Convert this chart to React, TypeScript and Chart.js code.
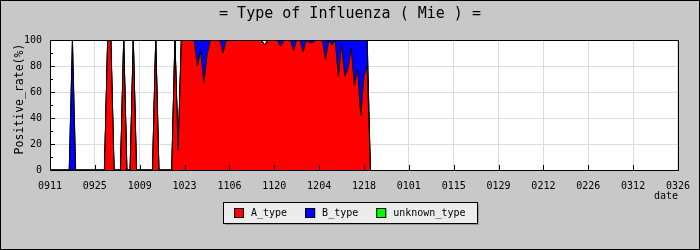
import React, { useEffect, useRef } from "react";
import { Chart, registerables } from "chart.js";

Chart.register(...registerables);

const TITLE = "= Type of Influenza ( Mie ) =";
const Y_TITLE = "Positive_rate(%)";
const X_TITLE = "date";
const TICK_LABELS = ["0911", "0925", "1009", "1023", "1106", "1120", "1204", "1218", "0101", "0115", "0129", "0212", "0226", "0312", "0326"];
const SERIES_NAMES = ["A_type", "B_type", "unknown_type"];
const SERIES_COLORS = ["#ff0000", "#0000ff", "#00ff00"];

// daily values, day 0 = 0911
const A_TYPE = [
  0, 0, 0, 0, 0, 0, 0, 0, 0, 0,
  0, 0, 0, 0, 0, 0, 0, 0, 100, 100,
  0, 0, 0, 100, 0, 0, 100, 0, 0, 0,
  0, 0, 0, 100, 0, 0, 0, 0, 0, 100,
  15, 100, 100, 100, 100, 100, 80, 92, 67, 88,
  100, 100, 100, 100, 90, 100, 100, 100, 100, 100,
  100, 100, 100, 100, 100, 100, 100, 96, 100, 100,
  100, 100, 95, 100, 100, 100, 92, 100, 100, 91,
  100, 98, 98, 100, 100, 100, 85, 100, 96, 100,
  72, 97, 72, 78, 94, 65, 78, 42, 72, 80,
  0,
];
const B_TYPE = [
  0, 0, 0, 0, 0, 0, 0, 100, 0, 0,
  0, 0, 0, 0, 0, 0, 0, 0, 0, 0,
  0, 0, 0, 0, 0, 0, 0, 0, 0, 0,
  0, 0, 0, 0, 0, 0, 0, 0, 0, 0,
  0, 0, 0, 0, 0, 0, 20, 8, 33, 12,
  0, 0, 0, 0, 10, 0, 0, 0, 0, 0,
  0, 0, 0, 0, 0, 0, 0, 0, 0, 0,
  0, 0, 5, 0, 0, 0, 8, 0, 0, 9,
  0, 2, 2, 0, 0, 0, 15, 0, 4, 0,
  28, 3, 28, 22, 6, 35, 22, 58, 28, 20,
  0,
];
const UNKNOWN_TYPE = [
  0, 0, 0, 0, 0, 0, 0, 0, 0, 0,
  0, 0, 0, 0, 0, 0, 0, 0, 0, 0,
  0, 0, 0, 0, 0, 0, 0, 0, 0, 0,
  0, 0, 0, 0, 0, 0, 0, 0, 0, 0,
  0, 0, 0, 0, 0, 0, 0, 0, 0, 0,
  0, 0, 0, 0, 0, 0, 0, 0, 0, 0,
  0, 0, 0, 0, 0, 0, 0, 0, 0, 0,
  0, 0, 0, 0, 0, 0, 0, 0, 0, 0,
  0, 0, 0, 0, 0, 0, 0, 0, 0, 0,
  0, 0, 0, 0, 0, 0, 0, 0, 0, 0,
  0,
];

const MONO = "'DejaVu Sans Mono', 'Liberation Mono', monospace";
const BG = "#c8c8c8";
const GRID = "#dcdcdc";

const framePlugin = {
  id: "frame",
  beforeDraw(chart: any) {
    const { ctx, chartArea: a, width, height } = chart;
    ctx.save();
    ctx.fillStyle = BG;
    ctx.fillRect(0, 0, width, height);
    ctx.fillStyle = "#ffffff";
    ctx.fillRect(a.left, a.top, a.right - a.left, a.bottom - a.top);
    ctx.restore();
  },
  afterDatasetsDraw(chart: any) {
    const { ctx, chartArea: a, scales } = chart;
    ctx.save();
    ctx.strokeStyle = "#000";
    ctx.lineWidth = 1;
    // bottom ticks
    ctx.beginPath();
    for (let i = 0; i < TICK_LABELS.length; i++) {
      const x = Math.round(scales.x.getPixelForValue(i * 14)) + 0.5;
      ctx.moveTo(x, a.bottom);
      ctx.lineTo(x, a.bottom - 5);
    }
    // left ticks
    for (let v = 0; v <= 100; v += 10) {
      const y = Math.round(scales.y.getPixelForValue(v)) + 0.5;
      ctx.moveTo(a.left, y);
      ctx.lineTo(a.left + (v % 20 === 0 ? 5 : 3), y);
    }
    ctx.stroke();
    ctx.strokeRect(Math.round(a.left) + 0.5, Math.round(a.top) + 0.5, Math.round(a.right - a.left), Math.round(a.bottom - a.top));
    ctx.restore();
  },
  afterDraw(chart: any) {
    const { ctx, chartArea: a, width, height } = chart;
    ctx.save();
    ctx.fillStyle = "#000";
    // title
    ctx.font = `15px ${MONO}`;
    ctx.textAlign = "center";
    ctx.textBaseline = "middle";
    ctx.fillText(TITLE, width / 2, 14);
    // y title
    ctx.save();
    ctx.translate(20, 99);
    ctx.rotate(-Math.PI / 2);
    ctx.font = `11.5px ${MONO}`;
    ctx.fillText(Y_TITLE, 0, 0);
    ctx.restore();
    // x title
    ctx.font = `10px ${MONO}`;
    ctx.textAlign = "right";
    ctx.fillText(X_TITLE, a.right, 196);
    // legend
    const bx = 223, by = 202, bw = 254, bh = 21;
    ctx.fillStyle = "#9a9a9a";
    ctx.fillRect(bx + 2, by + 2, bw, bh);
    ctx.fillStyle = "#ececec";
    ctx.fillRect(bx, by, bw, bh);
    ctx.strokeStyle = "#000";
    ctx.strokeRect(bx + 0.5, by + 0.5, bw, bh);
    ctx.font = `10px ${MONO}`;
    ctx.textAlign = "left";
    let x = 234;
    for (let i = 0; i < SERIES_NAMES.length; i++) {
      ctx.fillStyle = SERIES_COLORS[i];
      ctx.fillRect(x, 208, 10, 10);
      ctx.strokeRect(x + 0.5, 208.5, 9, 9);
      ctx.fillStyle = "#000";
      ctx.fillText(SERIES_NAMES[i], x + 17, 213.5);
      x += 17 + ctx.measureText(SERIES_NAMES[i]).width + 18;
    }
    // outer border
    ctx.strokeStyle = "#000";
    ctx.strokeRect(0.5, 0.5, width - 1, height - 1);
    ctx.restore();
  },
};

export default function App() {
  const ref = useRef<HTMLCanvasElement | null>(null);
  useEffect(() => {
    if (!ref.current) return;
    const series = [A_TYPE, B_TYPE, UNKNOWN_TYPE];
    const chart = new Chart(ref.current, {
      type: "line",
      data: {
        datasets: series.map((vals, k) => ({
          label: SERIES_NAMES[k],
          data: vals.map((y, i) => ({ x: i, y })),
          backgroundColor: SERIES_COLORS[k],
          borderColor: "#000",
          borderWidth: 1,
          pointRadius: 0,
          tension: 0,
          fill: k === 0 ? "origin" : "-1",
        })),
      },
      options: {
        animation: false,
        responsive: false,
        devicePixelRatio: 1,
        layout: { padding: { left: 0, right: 20, top: 40, bottom: 0 } },
        plugins: { legend: { display: false }, title: { display: false }, tooltip: { enabled: false } },
        scales: {
          x: {
            type: "linear",
            min: 0,
            max: (TICK_LABELS.length - 1) * 14,
            grid: { color: GRID, drawTicks: false },
            border: { display: false },
            ticks: {
              stepSize: 14,
              padding: 10,
              color: "#000",
              maxRotation: 0,
              autoSkip: false,
              font: { family: MONO, size: 10 },
              callback: (_v: any, i: number) => TICK_LABELS[i],
            },
            afterFit: (s: any) => { s.height = 80; },
          },
          y: {
            stacked: true,
            min: 0,
            max: 100,
            grid: { color: GRID, drawTicks: false },
            border: { display: false },
            ticks: { stepSize: 20, padding: 8, color: "#000", font: { family: MONO, size: 10 } },
            afterFit: (s: any) => { s.width = 50; },
          },
        },
      },
      plugins: [framePlugin],
    } as any);
    return () => chart.destroy();
  }, []);
  return (
    <div style={{ position: "fixed", left: 0, top: 0, width: 700, height: 250 }}>
      <canvas ref={ref} width={700} height={250} style={{ display: "block" }} />
    </div>
  );
}
